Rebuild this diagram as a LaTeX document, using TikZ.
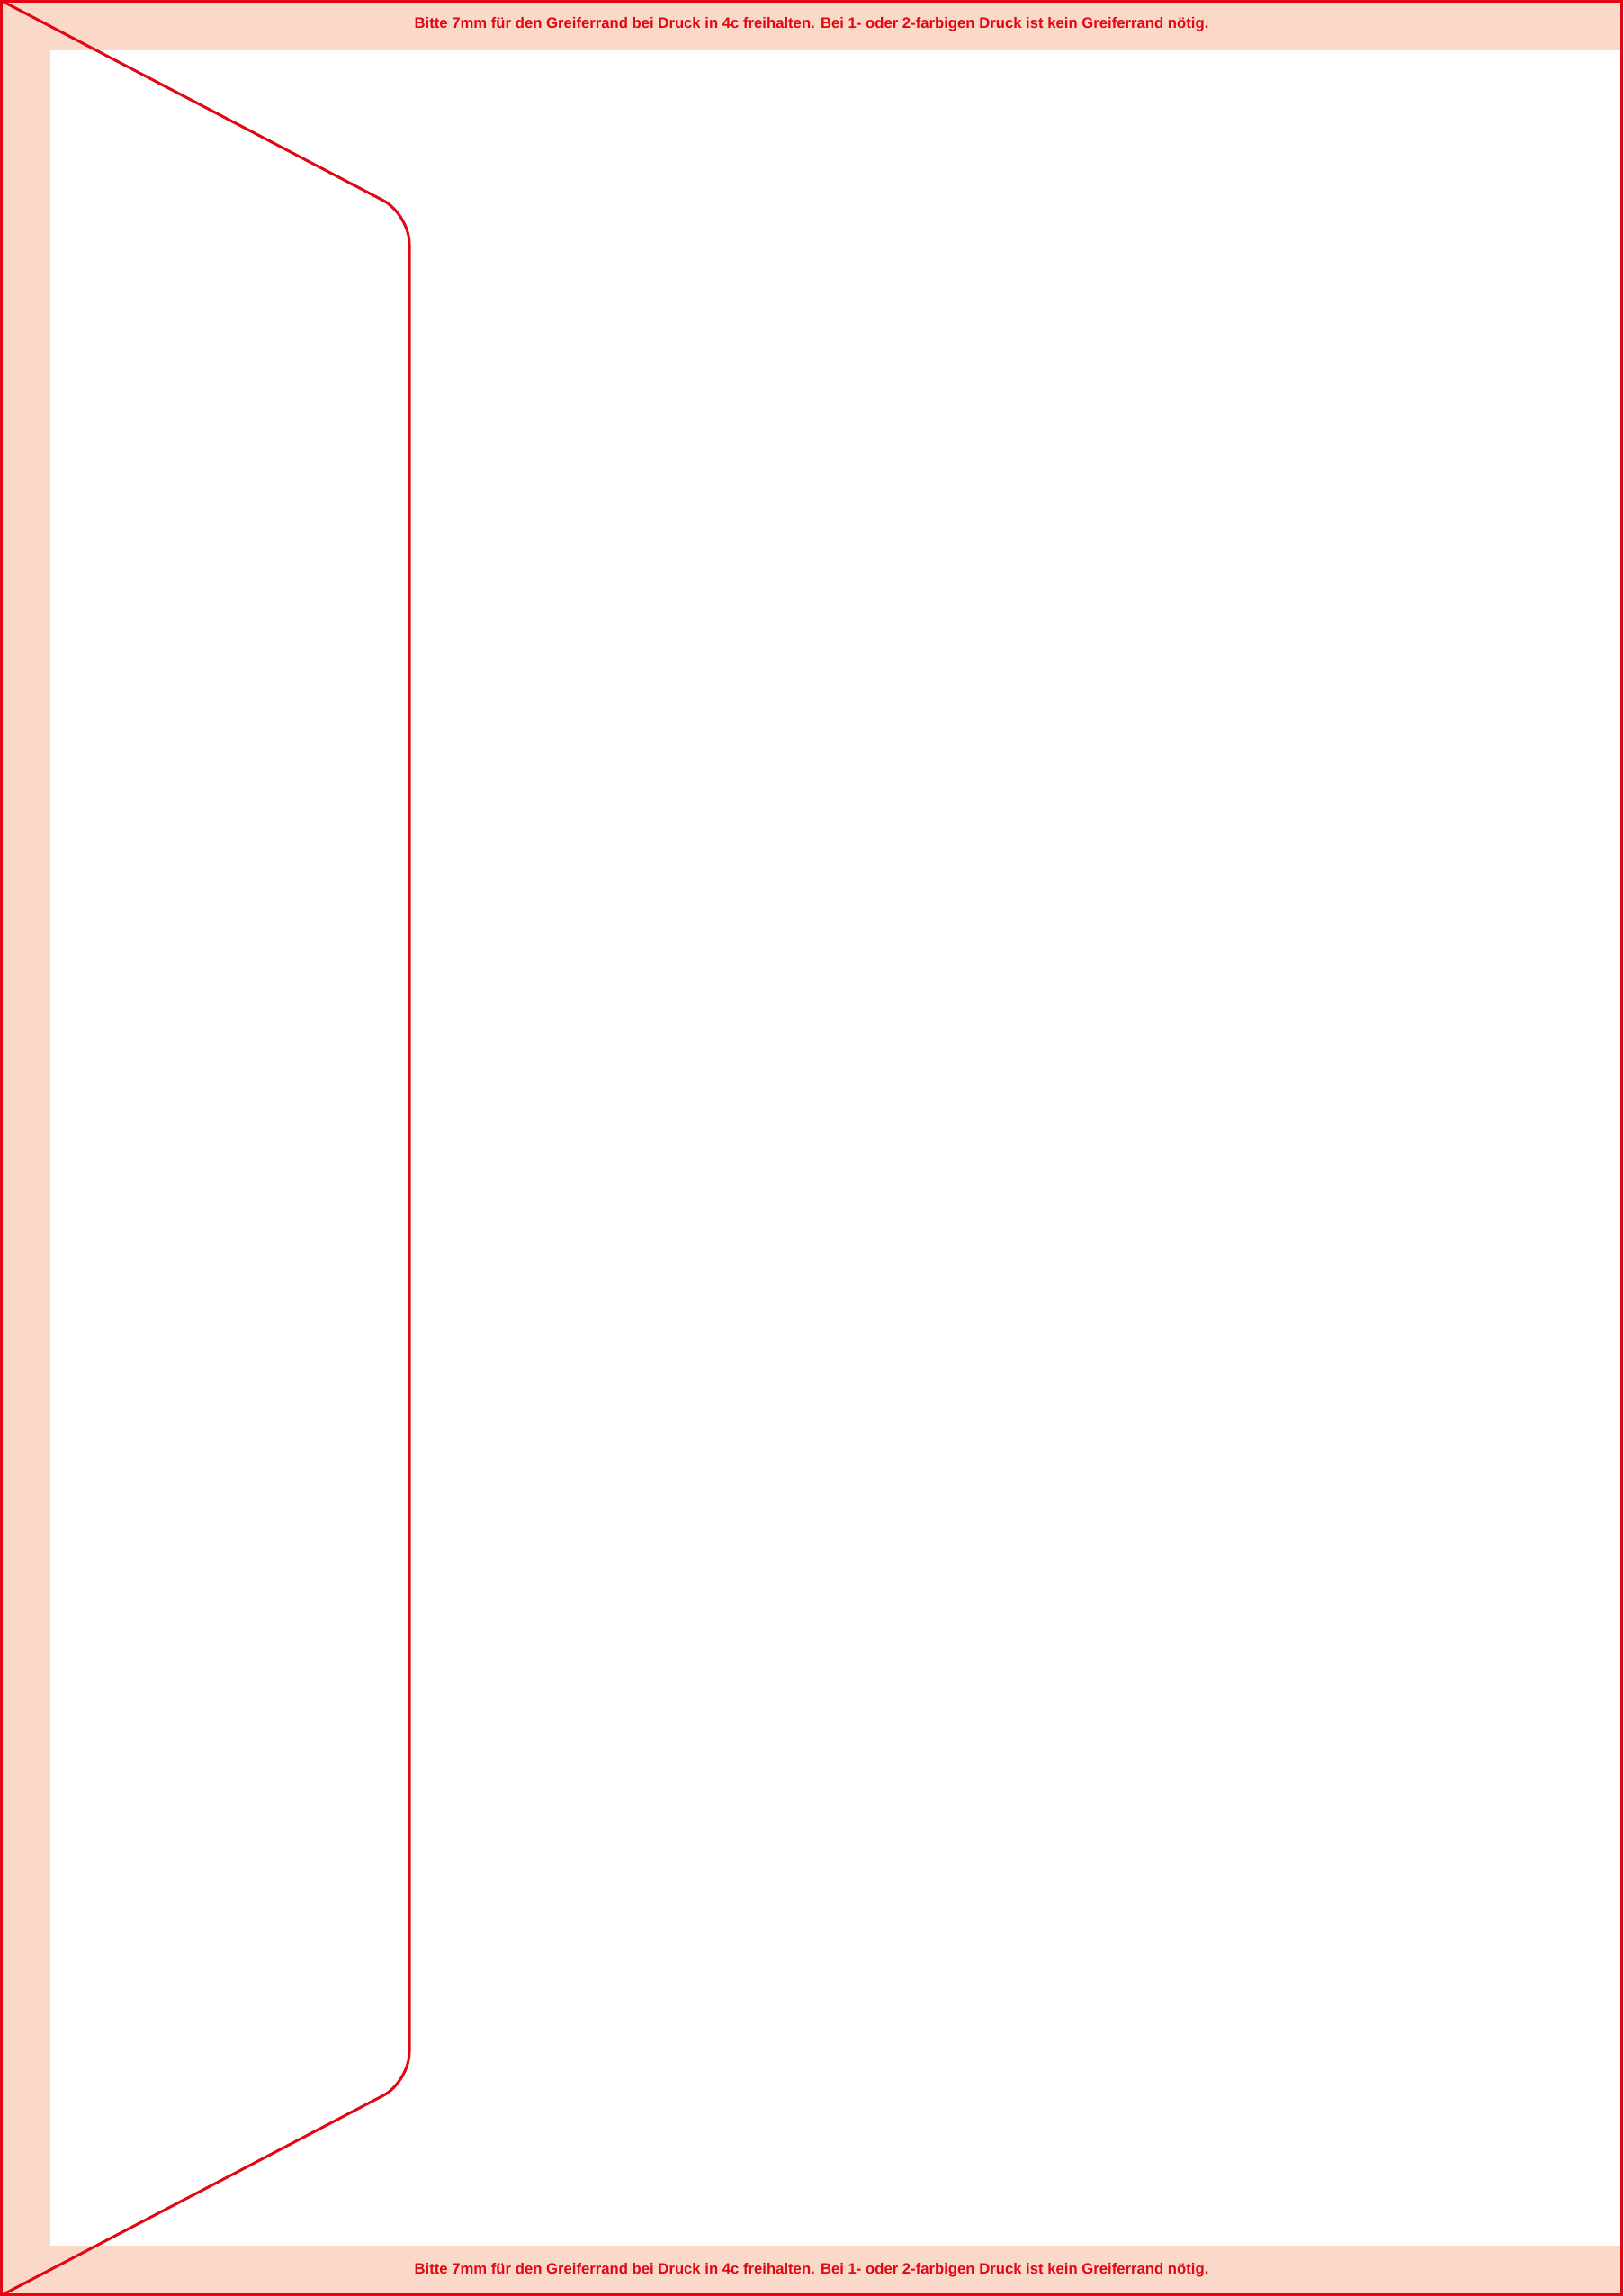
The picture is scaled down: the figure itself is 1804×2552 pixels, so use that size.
\documentclass[tikz,border=0pt]{standalone}
\usepackage{fontspec}
\setmainfont{Liberation Sans}
\usetikzlibrary{calc,positioning}

\definecolor{cutred}{RGB}{227,6,19}
\definecolor{gripband}{RGB}{250,217,201}
\tikzset{
  cutline/.style={draw=cutred,line width=0.3mm},
  griptext/.style={text=cutred,font=\bfseries\fontsize{4.75}{5}\selectfont,inner sep=0pt}
}

\begin{document}
\begin{tikzpicture}[x=0.1mm,y=-0.1mm]
\useasboundingbox (0,0) rectangle (1804,2552);

% Greiferrand
\fill[gripband] (0,0) rectangle (1804,56);
\fill[gripband] (0,2496) rectangle (1804,2552);
\fill[gripband] (0,0) rectangle (56,2552);

% Klappe
\draw[cutline,rounded corners=3.3mm] (0,0) -- (455,238) -- (455,2314) -- (0,2552);

% Rahmen
\draw[cutline] (1.5,1.5) rectangle (1802.5,2550.5);

\foreach \pos/\y in {top/27,bottom/2523}
  \node[griptext] (hint\pos) at (902,\y) {Bitte 7mm für den Greiferrand bei Druck in 4c freihalten. Bei 1- oder 2-farbigen Druck ist kein Greiferrand nötig.};

\end{tikzpicture}
\end{document}
